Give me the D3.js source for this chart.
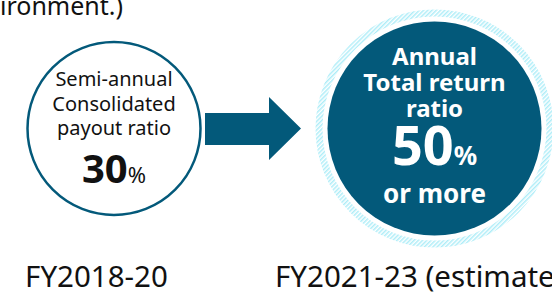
<!DOCTYPE html>
<html>
<head>
<meta charset="utf-8">
<style>
  body { margin: 0; background: #fff; }
  text { font-family: "Noto Sans", "Open Sans", sans-serif; }
</style>
</head>
<body>
<script src="https://d3js.org/d3.v7.min.js"></script>
<script>
// data
var periods = ["FY2018-20", "FY2021-23 (estimates)"];
var values = [30, 50];
var headings = [["Semi-annual", "Consolidated", "payout ratio"], ["Annual", "Total return", "ratio"]];
var suffixes = ["", "or more"];
var topNote = "ironment.)";

var width = 552, height = 292;
var teal = "#03597a";

var svg = d3.select("body").append("svg")
  .attr("width", width)
  .attr("height", height);

// stripes for the halo round the target circle
var defs = svg.append("defs");
var pat = defs.append("pattern")
  .attr("id", "hatch")
  .attr("patternUnits", "userSpaceOnUse")
  .attr("width", 3).attr("height", 3)
  .attr("patternTransform", "rotate(45)");
pat.append("rect").attr("width", 3).attr("height", 3).attr("fill", "#fff");
pat.append("rect").attr("width", 1.5).attr("height", 3).attr("fill", "#aeedf8");

var x = d3.scalePoint().domain(periods).range([114, 434.5]);
var r = d3.scaleLinear().domain([30, 50]).range([86.5, 107]);
var cy = 128.5;

// clipped sentence at the top
svg.append("text")
  .attr("x", 0).attr("y", 15)
  .attr("font-size", 25)
  .attr("textLength", 123)
  .attr("lengthAdjust", "spacing")
  .attr("fill", "#111")
  .text(topNote);

// halo
svg.append("circle")
  .attr("cx", x(periods[1])).attr("cy", cy)
  .attr("r", r(values[1]) + 8)
  .attr("fill", "none")
  .attr("stroke", "url(#hatch)")
  .attr("stroke-width", 8);
svg.append("circle")
  .attr("cx", x(periods[1])).attr("cy", cy)
  .attr("r", r(values[1]) + 3.5)
  .attr("fill", "none")
  .attr("stroke", "#fff")
  .attr("stroke-width", 3);

var g = svg.selectAll("g.item")
  .data(values)
  .enter().append("g")
  .attr("class", "item");

g.append("circle")
  .attr("cx", function(d, i) { return x(periods[i]); })
  .attr("cy", cy)
  .attr("r", function(d) { return r(d); })
  .attr("fill", function(d, i) { return i ? teal : "#fff"; })
  .attr("stroke", teal)
  .attr("stroke-width", function(d, i) { return i ? 0 : 2.5; });

// arrow
var ax0 = 205, ax1 = 269, tip = 301;
svg.append("path")
  .attr("d", d3.line()([[ax0, 113], [ax1, 113], [ax1, 97], [tip, cy], [ax1, 160], [ax1, 145], [ax0, 145]]) + "Z")
  .attr("fill", teal);

// left circle text
var lx = x(periods[0]);
headings[0].forEach(function(t, j) {
  svg.append("text")
    .attr("x", lx).attr("y", 86 + j * 24.5)
    .attr("text-anchor", "middle")
    .attr("font-size", 20)
    .attr("fill", "#111")
    .text(t);
});
var t0 = svg.append("text")
  .attr("x", lx).attr("y", 183)
  .attr("text-anchor", "middle")
  .attr("fill", "#111");
t0.append("tspan").attr("font-size", 40).attr("font-weight", "bold").text(values[0]);
t0.append("tspan").attr("font-size", 22).text("%");

// right circle text
var rx = x(periods[1]);
headings[1].forEach(function(t, j) {
  svg.append("text")
    .attr("x", rx).attr("y", 65 + j * 26)
    .attr("text-anchor", "middle")
    .attr("font-size", 24)
    .attr("font-weight", "bold")
    .attr("fill", "#fff")
    .text(t);
});
var t1 = svg.append("text")
  .attr("x", rx).attr("y", 165)
  .attr("text-anchor", "middle")
  .attr("fill", "#fff");
t1.append("tspan").attr("font-size", 54).attr("font-weight", "bold").text(values[1]);
t1.append("tspan").attr("font-size", 26).attr("font-weight", "bold").text("%");
svg.append("text")
  .attr("x", rx).attr("y", 203)
  .attr("text-anchor", "middle")
  .attr("font-size", 26)
  .attr("font-weight", "bold")
  .attr("fill", "#fff")
  .text(suffixes[1]);

// period labels
svg.append("text")
  .attr("x", 96.5).attr("y", 287)
  .attr("text-anchor", "middle")
  .attr("font-size", 29.5)
  .attr("fill", "#111")
  .text(periods[0]);
svg.append("text")
  .attr("x", 275).attr("y", 287)
  .attr("font-size", 29.5)
  .attr("fill", "#111")
  .text(periods[1]);
</script>
</body>
</html>
